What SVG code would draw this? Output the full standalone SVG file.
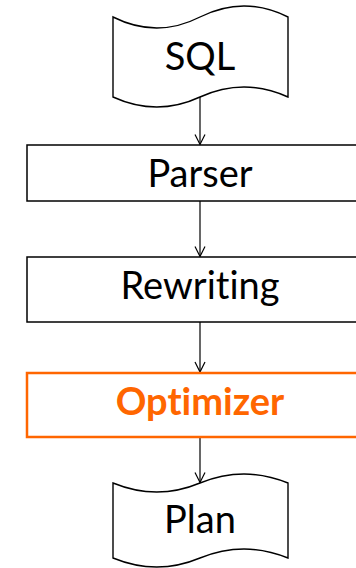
<svg xmlns="http://www.w3.org/2000/svg" width="356" height="568" viewBox="0 0 356 568">
<defs>
<style>
.shape{fill:#fff;stroke:#000;stroke-width:1.4}
.box{fill:#fff;stroke:#000;stroke-width:1.5}
.opt{fill:#fff;stroke:#FF6600;stroke-width:2.5}
.lbl{font-family:Lato,"Open Sans",sans-serif;font-size:38px;fill:#000;text-anchor:middle;font-variant-ligatures:none}
.lblopt{font-family:Lato,"Open Sans",sans-serif;font-size:38px;font-weight:bold;fill:#FF6600;text-anchor:middle;font-variant-ligatures:none}
.conn{stroke:#000;stroke-width:1.2;fill:none}
</style>
<marker id="arr" viewBox="0 0 12 12" refX="11" refY="6" markerWidth="12" markerHeight="12" markerUnits="userSpaceOnUse" orient="auto">
<path d="M1,1 L11,6 L1,11" fill="none" stroke="#000" stroke-width="1.2"/>
</marker>
</defs>
<rect width="356" height="568" fill="#fff"/>
<g id="connectors">
<line class="conn" x1="200" y1="97" x2="200" y2="144.5" marker-end="url(#arr)"/>
<line class="conn" x1="200" y1="201" x2="200" y2="256.5" marker-end="url(#arr)"/>
<line class="conn" x1="200" y1="322" x2="200" y2="372" marker-end="url(#arr)"/>
<line class="conn" x1="200" y1="438" x2="200" y2="482.5" marker-end="url(#arr)"/>
</g>
<g id="sql">
<path class="shape" d="M113,17 Q157,39 200,17 Q244,-5 288,17 L288,97 Q244,77 200,97 Q157,117 113,97 Z"/>
<text class="lbl" x="200" y="70">SQL</text>
</g>
<g id="parser">
<rect class="box" x="27" y="145" width="346" height="56"/>
<text class="lbl" x="200" y="187">Parser</text>
</g>
<g id="rewriting">
<rect class="box" x="27" y="257" width="346" height="65"/>
<text class="lbl" x="200" y="299">Rewriting</text>
</g>
<g id="optimizer">
<rect class="opt" x="27" y="373" width="346" height="64"/>
<text class="lblopt" x="200" y="415">Optimizer</text>
</g>
<g id="plan">
<path class="shape" d="M113,483 Q157,501 200,483 Q244,465 288,483 L288,558 Q244,540 200,558 Q157,576 113,558 Z"/>
<text class="lbl" x="200" y="533">Plan</text>
</g>
</svg>
